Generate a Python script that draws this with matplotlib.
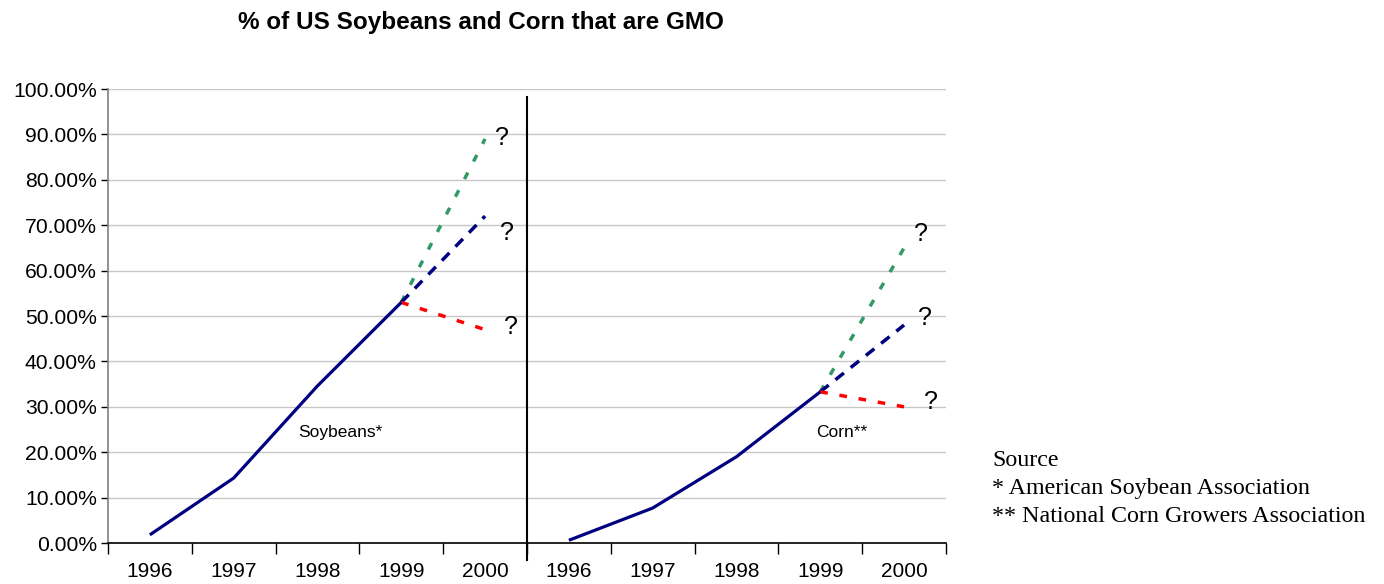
"""
GMO share of US soybean and corn acreage, 1996-2000
"""
import matplotlib
matplotlib.use('Agg')
import matplotlib.pyplot as plt
from matplotlib.ticker import FixedLocator, FuncFormatter

plt.rcParams['font.family'] = ['Liberation Sans', 'DejaVu Sans']

years = ['1996', '1997', '1998', '1999', '2000']

# reported shares (%), 1996-1999
soy_actual = [1.8, 14.3, 34.6, 53.0]
corn_actual = [0.6, 7.7, 19.0, 33.3]

# 2000 scenarios: high / middle / low
soy_2000 = [89.0, 72.0, 47.0]
corn_2000 = [65.0, 48.0, 30.0]

crop_names = ['Soybeans*', 'Corn**']
sources = ['Source', '* American Soybean Association', '** National Corn Growers Association']

NAVY = '#000080'
scenario_styles = [
    dict(color='#339966', dashes=(2.1, 3.6)),
    dict(color=NAVY, dashes=(3.1, 2.5)),
    dict(color='#FF0000', dashes=(2.2, 3.4)),
]
# where each "?" sits relative to the line end, in pixels (x right, y up)
q_offsets = [
    [(17, 1), (22, -17), (26, 3)],
    [(17, 14), (21, 7), (27, 5)],
]

fig = plt.figure(figsize=(13.84, 5.84), dpi=100)
ax = fig.add_axes([0.078, 0.0702, 0.6055, 0.7774])

labels = years + years
n = len(labels)

# one block of categories per crop
for block, (actual, proj) in enumerate([(soy_actual, soy_2000), (corn_actual, corn_2000)]):
    x0 = block * len(years)
    xs = [x0 + i for i in range(len(actual))]
    ax.plot(xs, actual, color=NAVY, lw=2.3, solid_capstyle='butt', zorder=3)
    last_x, last_y = xs[-1], actual[-1]
    for val, style, (dx, dy) in zip(proj, scenario_styles, q_offsets[block]):
        ax.plot([last_x, last_x + 1], [last_y, val], lw=2.5, zorder=2,
                color=style['color'], dashes=style['dashes'], dash_capstyle='butt')
        ax.annotate('?', (last_x + 1, val), xytext=(dx * 0.72, dy * 0.72),
                    textcoords='offset points', fontsize=18, ha='center', va='center')

ax.text(2.27, 24.4, crop_names[0], fontsize=12.5, ha='center', va='center')
ax.text(8.26, 24.4, crop_names[1], fontsize=12.5, ha='center', va='center')

ax.set_xlim(-0.5, n - 0.5)
ax.set_ylim(0, 100)

# category axis: ticks at boundaries, labels in between
ax.xaxis.set_major_locator(FixedLocator([i - 0.5 for i in range(n + 1)]))
ax.xaxis.set_major_formatter(FuncFormatter(lambda v, p: ''))
ax.xaxis.set_minor_locator(FixedLocator(list(range(n))))
ax.set_xticklabels(labels, minor=True)
ax.tick_params(axis='x', which='major', direction='out', length=8, width=1, color='black')
ax.tick_params(axis='x', which='minor', length=0, pad=14, labelsize=15)

ax.set_yticks(range(0, 101, 10))
ax.yaxis.set_major_formatter(FuncFormatter(lambda v, p: f'{v:.2f}%'))
ax.tick_params(axis='y', direction='out', length=5, width=1, color='black', labelsize=15.2, pad=3)

ax.grid(axis='y', color='#c8c8c8', lw=1)
ax.set_axisbelow(True)
for side in ['top', 'right']:
    ax.spines[side].set_visible(False)
ax.spines['left'].set_color('#808080')
ax.spines['left'].set_linewidth(1.2)
ax.spines['bottom'].set_color('black')
ax.spines['bottom'].set_linewidth(1.2)

# separator between the two crops
ax.plot([len(years) - 0.5] * 2, [-0.037, 0.982], color='black', lw=1.5,
        transform=ax.get_xaxis_transform(), clip_on=False, zorder=4)

fig.text(0.3475, 0.962, '% of US Soybeans and Corn that are GMO', fontsize=17.5,
         fontweight='bold', ha='center', va='center')

for i, line in enumerate(sources):
    fig.text(0.717, 0.212 - i * 0.048, line, fontsize=17.3, ha='left', va='center',
             family='Liberation Serif')

plt.savefig('out.png', dpi=100)
plt.close()
